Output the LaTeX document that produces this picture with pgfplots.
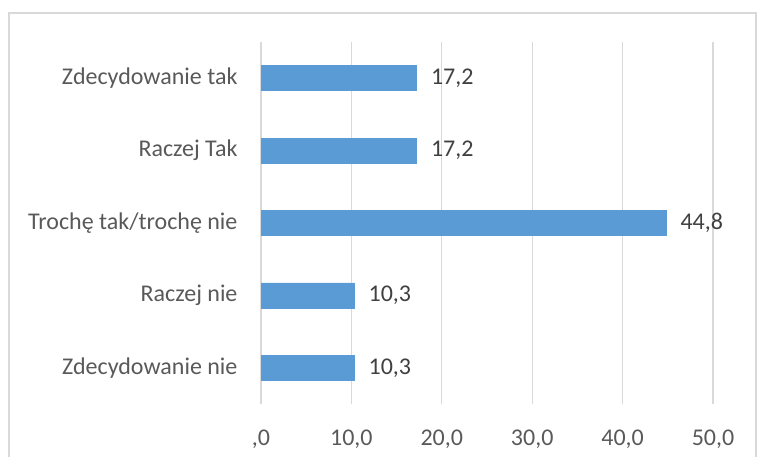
\documentclass[border=0pt]{standalone}
\usepackage{pgfplots}
\pgfplotsset{compat=1.18}
\usepackage{fontspec}
\setmainfont{Carlito}
\definecolor{barblue}{HTML}{5B9BD5}
\definecolor{gridgray}{HTML}{D9D9D9}
\definecolor{txt}{HTML}{595959}
\definecolor{valtxt}{HTML}{404040}
\begin{document}
\begin{tikzpicture}
\useasboundingbox (0pt,0pt) rectangle (757pt,456pt);
\draw[color=gridgray, line width=1.5pt] (9pt,-5pt) -- (9pt,443pt) -- (756pt,443pt) -- (756pt,-5pt);
\begin{axis}[
  at={(261pt,52pt)}, anchor=south west,
  scale only axis, width=452pt, height=362pt,
  xbar, xmin=0, xmax=50, ymin=-0.5, ymax=4.5,
  ytick={0,1,2,3,4},
  yticklabels={Zdecydowanie nie, Raczej nie, Trochę tak/trochę nie, Raczej Tak, Zdecydowanie tak},
  xtick={0,10,20,30,40,50},
  xticklabels={{,0},{10,0},{20,0},{30,0},{40,0},{50,0}},
  xmajorgrids, grid style={gridgray, line width=1.3pt},
  axis line style={draw=none}, major tick length=0pt,
  bar width=25pt,
  /pgf/number format/assume math mode=true,
  tick label style={font=\fontsize{24}{28}\selectfont, text=txt},
  yticklabel style={xshift=-20pt},
  xticklabel style={yshift=-22pt},
  nodes near coords={\pgfmathprintnumber[fixed,fixed zerofill,precision=1,use comma]{\pgfplotspointmeta}},
  point meta=x,
  nodes near coords style={font=\fontsize{24}{28}\selectfont, text=valtxt, anchor=west, xshift=11pt},
  clip=false,
]
\addplot[fill=barblue, draw=barblue] coordinates {(10.3,0) (10.3,1) (44.8,2) (17.2,3) (17.2,4)};
\end{axis}
\end{tikzpicture}
\end{document}
